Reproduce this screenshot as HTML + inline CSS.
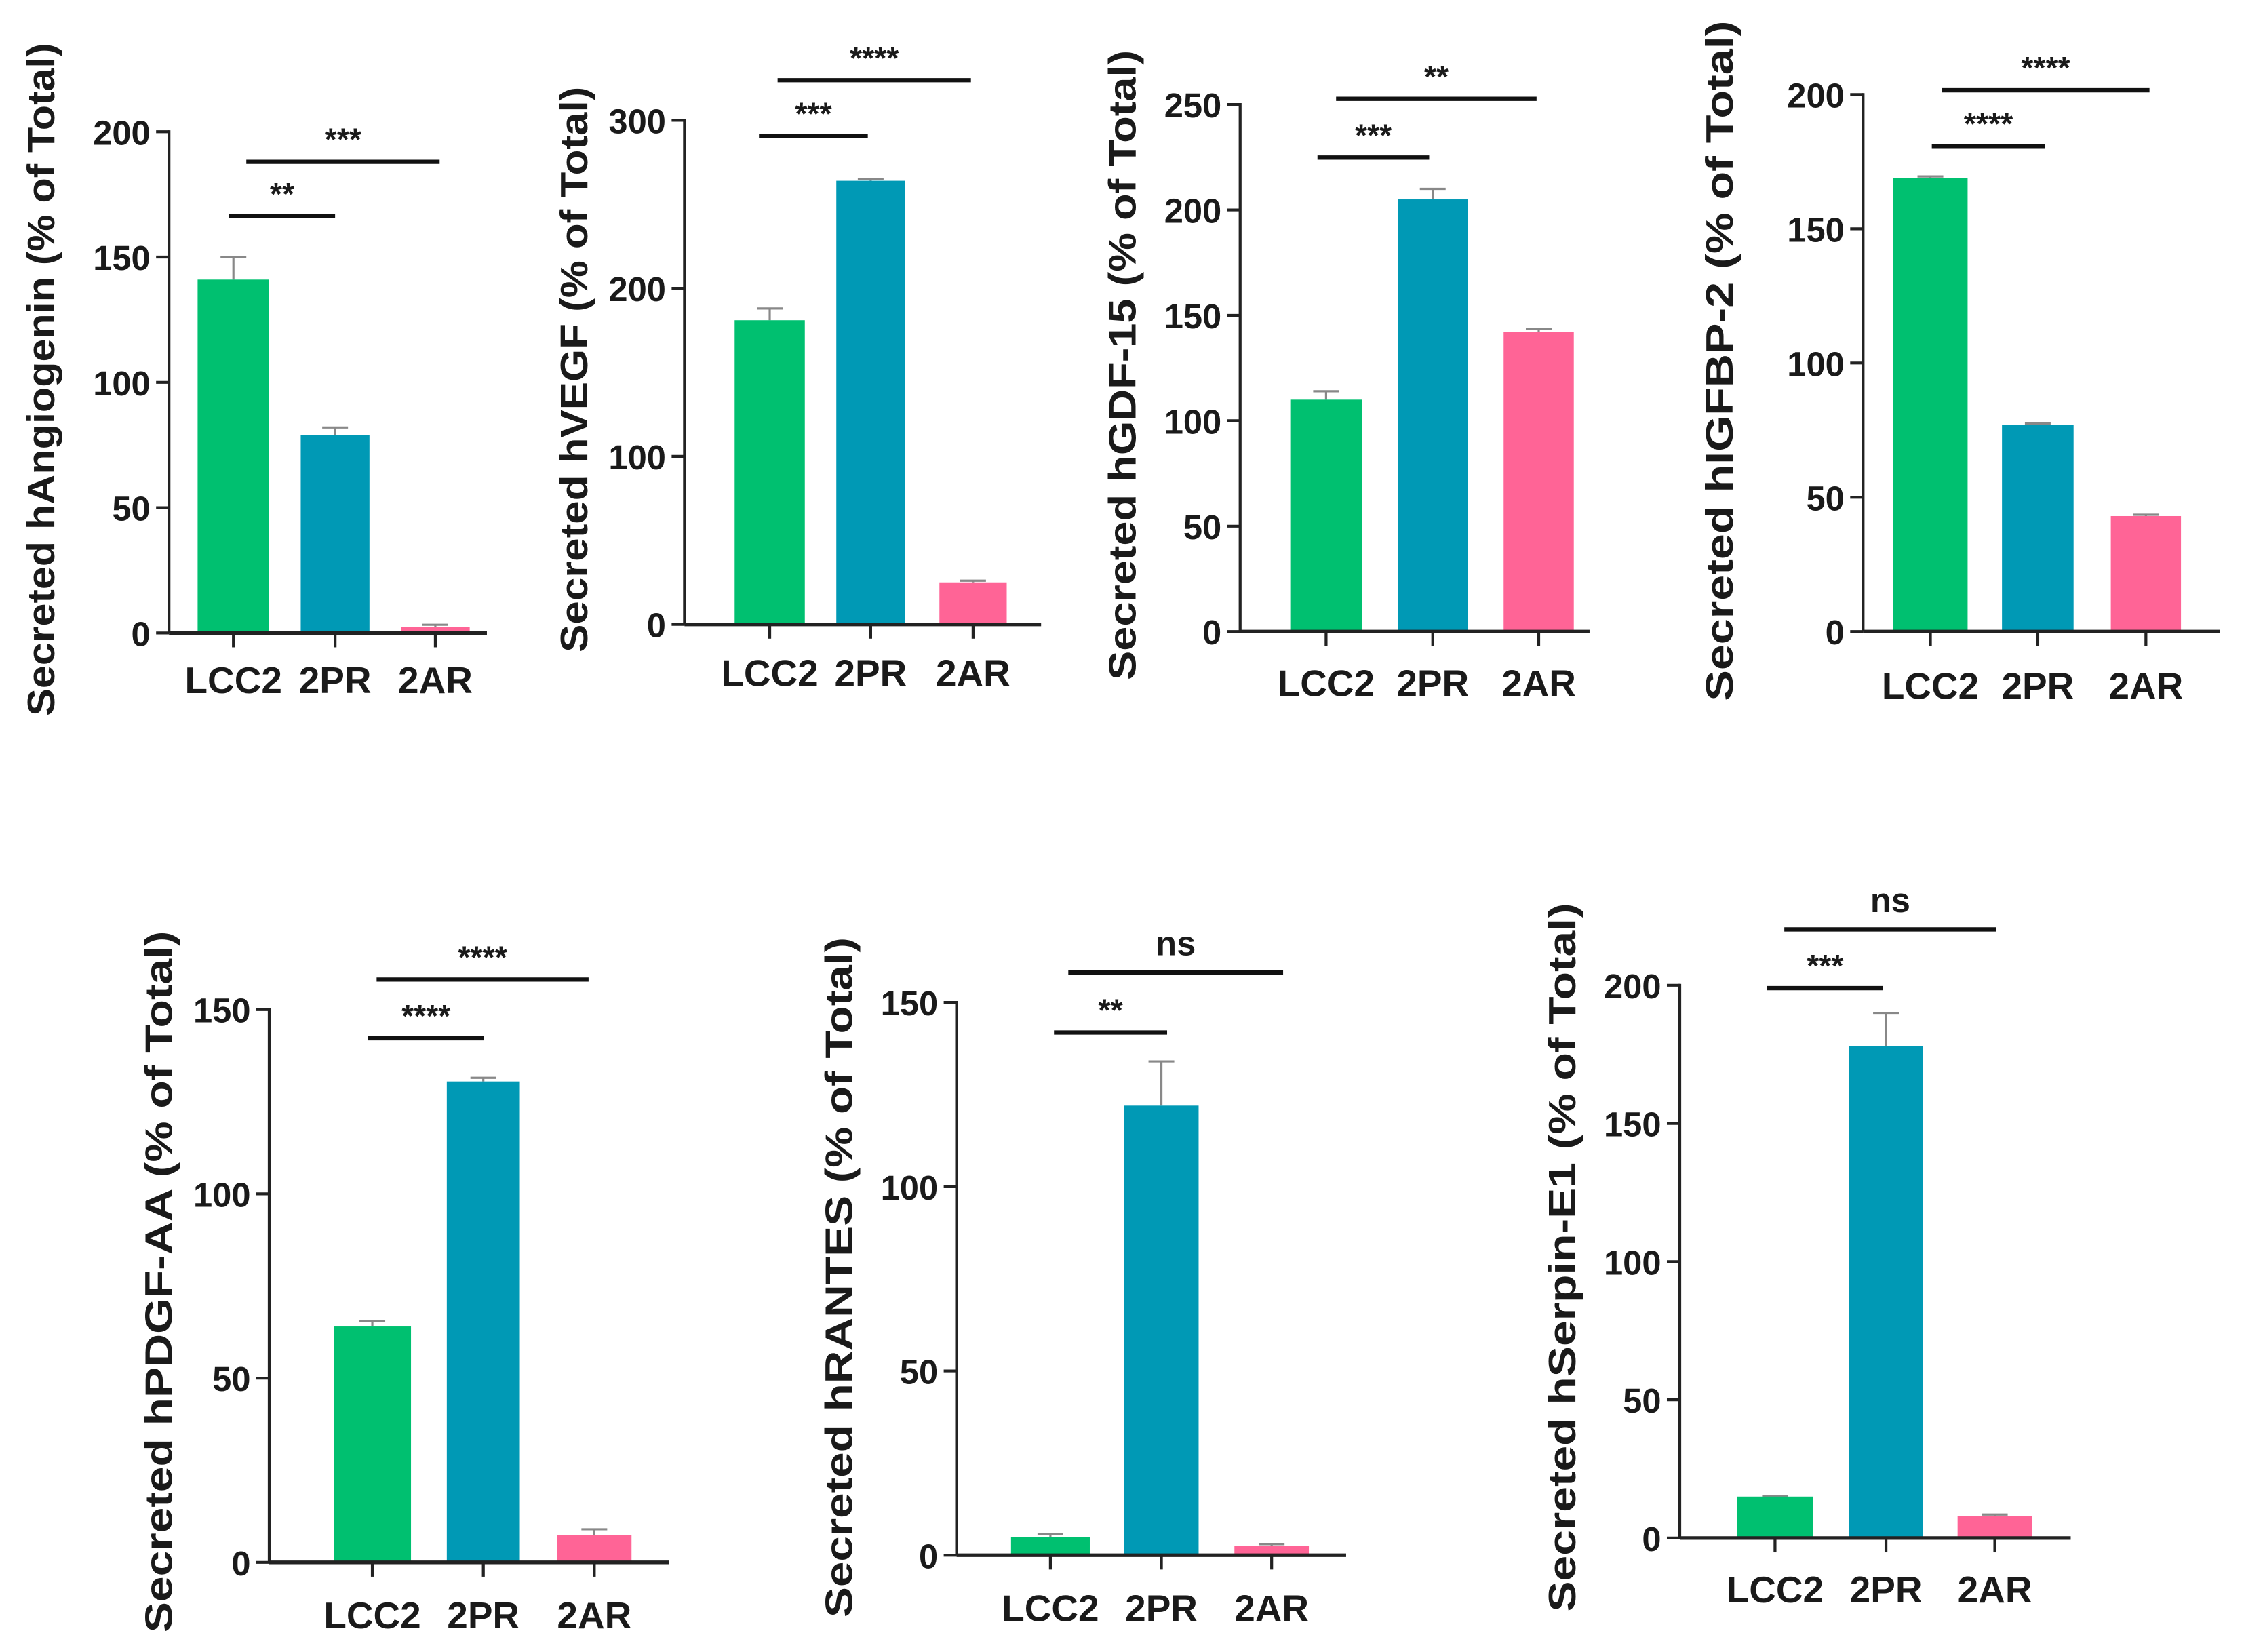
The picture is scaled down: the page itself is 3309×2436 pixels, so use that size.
<!DOCTYPE html>
<html><head><meta charset="utf-8"><style>
html,body{margin:0;padding:0;background:#fff;}
svg{display:block;}
text{font-family:"Liberation Sans",sans-serif;font-weight:bold;fill:#1a1a1a;}
</style></head><body>
<svg id="fig" width="3309" height="2436" viewBox="0 0 1567 1153.6" preserveAspectRatio="none" xmlns="http://www.w3.org/2000/svg"></svg>
<script>
const categories = ["LCC2","2PR","2AR"];
const titles = ["Secreted hAngiogenin (% of Total)","Secreted hVEGF (% of Total)","Secreted hGDF-15 (% of Total)","Secreted hIGFBP-2 (% of Total)","Secreted hPDGF-AA (%  of Total)","Secreted hRANTES (% of Total)","Secreted hSerpin-E1 (% of Total)"];
const valsAngiogenin = [141, 79, 2.5];
const errAngiogenin = [9, 3, 0.8];
const valsVEGF = [181, 264, 25];
const errVEGF = [7, 1, 1];
const valsGDF15 = [110, 205, 142];
const errGDF15 = [4, 5, 1.5];
const valsIGFBP2 = [169, 77, 43];
const errIGFBP2 = [0.5, 0.5, 0.5];
const valsPDGF = [64, 130.5, 7.5];
const errPDGF = [1.5, 1, 1.5];
const valsRANTES = [5, 122, 2.5];
const errRANTES = [0.8, 12, 0.5];
const valsSerpin = [15, 178, 8];
const errSerpin = [0.3, 12, 0.5];
const yMax = [200, 300, 250, 200, 150, 150, 200];
const yStep = [50, 100, 50, 50, 50, 50, 50];
const sig1 = ["**","***","***","****","****","**","***"];
const sig2 = ["***","****","**","****","****","ns","ns"];
const colors = ["#00c070","#0099b5","#ff6496"];

const layout = [
 {ax:118,y0:442,yt:92,bars:[[138,188],[210,258],[280,328]],end:340,s1:[160,234,151],s2:[172,307,113],tx:28,ty:265,tl:470,lab:475},
 {ax:478,y0:436,yt:84,bars:[[513,562],[584,632],[656,703]],end:727,s1:[530,606,95],s2:[543,678,56],tx:400,ty:258,tl:395,lab:470},
 {ax:866,y0:441,yt:73,bars:[[901,951],[976,1025],[1050,1099]],end:1110,s1:[920,998,110],s2:[933,1073,69],tx:783,ty:255,tl:440,lab:477},
 {ax:1301,y0:441,yt:66,bars:[[1322,1374],[1398,1448],[1474,1523]],end:1550,s1:[1349,1428,102],s2:[1356,1501,63],tx:1200,ty:252,tl:475,lab:479},
 {ax:188,y0:1091,yt:705,bars:[[233,287],[312,363],[389,441]],end:467,s1:[257,338,725],s2:[263,411,684],tx:110,ty:895,tl:490,lab:1128},
 {ax:668,y0:1086,yt:700,bars:[[706,761],[785,837],[862,914]],end:940,s1:[736,815,721],s2:[746,896,679],tx:585,ty:892,tl:475,lab:1123},
 {ax:1173,y0:1074,yt:688,bars:[[1213,1266],[1291,1343],[1367,1419]],end:1446,s1:[1234,1315,690],s2:[1246,1394,649],tx:1090,ty:878,tl:495,lab:1110}
];
const vals = [valsAngiogenin,valsVEGF,valsGDF15,valsIGFBP2,valsPDGF,valsRANTES,valsSerpin];
const errs = [errAngiogenin,errVEGF,errGDF15,errIGFBP2,errPDGF,errRANTES,errSerpin];
const names = ["angiogenin","vegf","gdf15","igfbp2","pdgfaa","rantes","serpine1"];
const NS="http://www.w3.org/2000/svg";
const svg=document.getElementById('fig');
function mk(tag,attrs,parent){const e=document.createElementNS(NS,tag);for(const k in attrs)e.setAttribute(k,attrs[k]);(parent||svg).appendChild(e);return e;}

layout.forEach((L,p)=>{
  const g=mk('g',{});
  
  
  const y=v=>L.y0-(v/yMax[p])*(L.y0-L.yt);
  categories.forEach((c,i)=>{
    const [x1,x2]=L.bars[i]; const cx=(x1+x2)/2;
    const top=y(vals[p][i]+errs[p][i]);
    const el=mk('line',{x1:cx,x2:cx,y1:y(vals[p][i]),y2:top,stroke:'#888','stroke-width':1.5},g);
    
    
    const cap=mk('line',{x1:cx-9,x2:cx+9,y1:top,y2:top,stroke:'#888','stroke-width':1.5},g);
    
    
    const r=mk('rect',{x:x1,y:y(vals[p][i]),width:x2-x1,height:L.y0-y(vals[p][i]),fill:colors[i]},g);
    
    
    const tk=mk('line',{x1:cx,x2:cx,y1:L.y0,y2:L.y0+10,stroke:'#222','stroke-width':2},g);
    
    
    const t=mk('text',{x:cx,y:L.lab+9,'text-anchor':'middle','font-size':26},g);
    t.textContent=c;
    
    
  });
  const ya=mk('line',{x1:L.ax,x2:L.ax,y1:L.yt-1,y2:L.y0,stroke:'#222','stroke-width':2},g);
  
  
  const xa=mk('line',{x1:L.ax,x2:L.end,y1:L.y0,y2:L.y0,stroke:'#222','stroke-width':2.5},g);
  
  
  for(let v=0;v<=yMax[p];v+=yStep[p]){
    const tk=mk('line',{x1:L.ax-9,x2:L.ax,y1:y(v),y2:y(v),stroke:'#222','stroke-width':2},g);
    
    
    const t=mk('text',{x:L.ax-13,y:y(v)+9,'text-anchor':'end','font-size':24,'font-weight':'normal'},g);
    t.textContent=v;
    
    
  }
  const tt=mk('text',{x:0,y:0,'text-anchor':'middle','font-size':27,textLength:L.tl,lengthAdjust:'spacingAndGlyphs',transform:`translate(${L.tx+10},${L.ty}) rotate(-90)`},g);
  tt.textContent=titles[p];
  
  
  [[L.s1,sig1[p]],[L.s2,sig2[p]]].forEach(([s,lab])=>{
    const ln=mk('line',{x1:s[0],x2:s[1],y1:s[2],y2:s[2],stroke:'#111','stroke-width':3},g);
    
    
    const isNs=lab==='ns';
    const t=mk('text',{x:(s[0]+s[1])/2,y:isNs?s[2]-12:s[2]-8,'text-anchor':'middle','font-size':isNs?24:22},g);
    t.textContent=lab;
    
    
  });
});
</script>
</body></html>
